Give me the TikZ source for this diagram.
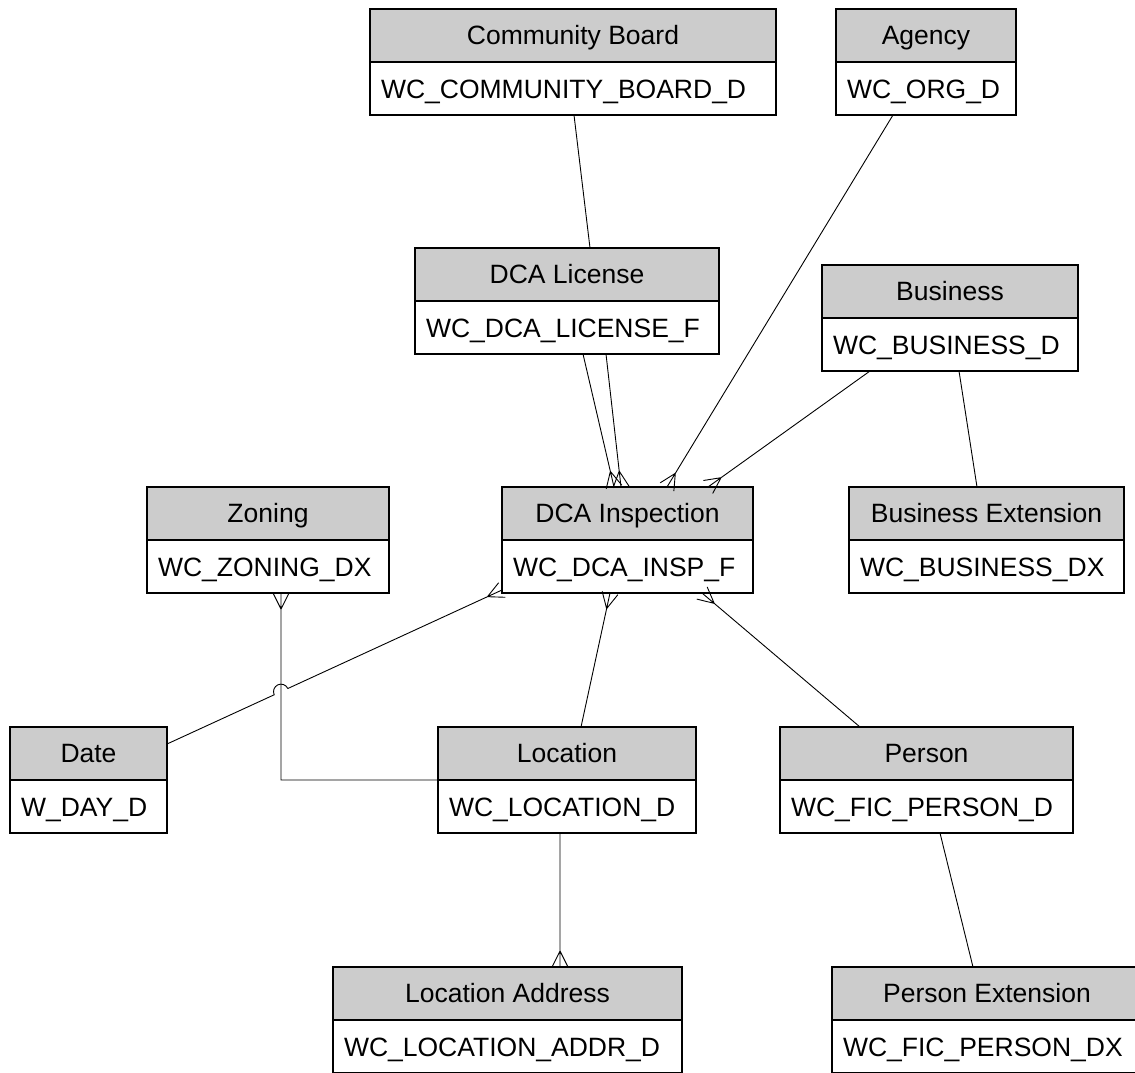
\documentclass[tikz,border=0pt]{standalone}
\usepackage{fontspec}
\setmainfont{Liberation Sans}
\usetikzlibrary{calc,positioning}
\definecolor{hdrgray}{RGB}{204,204,204}
\hyphenpenalty=10000
\exhyphenpenalty=10000

\begin{document}
\begin{tikzpicture}[x=1pt,y=-1pt]
\tikzstyle{enthead}=[rectangle,draw=black,line width=1.3pt,fill=hdrgray,anchor=north west,outer sep=0pt,inner xsep=11pt,minimum height=53pt,text height=18.5pt,text depth=0pt,font=\fontsize{26.5}{30}\selectfont]
\tikzstyle{enttab}=[rectangle,draw=black,line width=1.3pt,fill=white,outer sep=0pt,inner xsep=11pt,minimum height=53pt,text height=19.5pt,text depth=0pt,align=left,font=\fontsize{26.5}{30}\selectfont]
\tikzstyle{rel}=[line width=0.9pt]
\tikzstyle{many}=[to path={-- (\tikztotarget) ($(\tikztotarget)!16pt!(\tikztostart)$) -- ($(\tikztotarget)!8pt!90:(\tikztostart)$) ($(\tikztotarget)!16pt!(\tikztostart)$) -- ($(\tikztotarget)!8pt!-90:(\tikztostart)$)}]
\useasboundingbox (0,0) rectangle (1135,1072);

% tables
\node [enthead,minimum width=406pt] (comm) at (370,9) {Community Board};
\node [enttab,text width=384pt,below=0pt of comm] (commtab) {WC\_COMMUNITY\_BOARD\_D};
\node [enthead,minimum width=180pt] (agency) at (836,9) {Agency};
\node [enttab,text width=158pt,below=0pt of agency] (agencytab) {WC\_ORG\_D};
\node [enthead,minimum width=304pt] (lic) at (415,248) {DCA License};
\node [enttab,text width=282pt,below=0pt of lic] (lictab) {WC\_DCA\_LICENSE\_F};
\node [enthead,minimum width=256pt] (bus) at (822,265) {Business};
\node [enttab,text width=234pt,below=0pt of bus] (bustab) {WC\_BUSINESS\_D};
\node [enthead,minimum width=242pt] (zon) at (147,487) {Zoning};
\node [enttab,text width=220pt,below=0pt of zon] (zontab) {WC\_ZONING\_DX};
\node [enthead,minimum width=251pt] (insp) at (502,487) {DCA Inspection};
\node [enttab,text width=229pt,below=0pt of insp] (insptab) {WC\_DCA\_INSP\_F};
\node [enthead,minimum width=275pt] (busx) at (849,487) {Business Extension};
\node [enttab,text width=253pt,below=0pt of busx] (busxtab) {WC\_BUSINESS\_DX};
\node [enthead,minimum width=157pt] (date) at (10,727) {Date};
\node [enttab,text width=135pt,below=0pt of date] (datetab) {W\_DAY\_D};
\node [enthead,minimum width=258pt] (loc) at (438,727) {Location};
\node [enttab,text width=236pt,below=0pt of loc] (loctab) {WC\_LOCATION\_D};
\node [enthead,minimum width=293pt] (pers) at (780,727) {Person};
\node [enttab,text width=271pt,below=0pt of pers] (perstab) {WC\_FIC\_PERSON\_D};
\node [enthead,minimum width=349pt] (laddr) at (333,967) {Location Address};
\node [enttab,text width=327pt,below=0pt of laddr] (laddrtab) {WC\_LOCATION\_ADDR\_D};
\node [enthead,minimum width=310pt] (persx) at (832,967) {Person Extension};
\node [enttab,text width=288pt,below=0pt of persx] (persxtab) {WC\_FIC\_PERSON\_DX};

% link ends
\coordinate (cb1) at ($(commtab.south west)+(204,0)$);
\coordinate (lc1) at ($(lic.north west)+(175,0)$);
\coordinate (ag1) at ($(agencytab.south west)+(57,0)$);
\coordinate (lc2) at ($(lictab.south west)+(168,0)$);
\coordinate (lc3) at ($(lictab.south west)+(191,0)$);
\coordinate (bu1) at ($(bustab.south west)+(48,0)$);
\coordinate (bu2) at ($(bustab.south west)+(137,0)$);
\coordinate (bx1) at ($(busx.north west)+(128,0)$);
\coordinate (in1) at ($(insp.north west)+(165,0)$);
\coordinate (in2) at ($(insp.north west)+(112,0)$);
\coordinate (in3) at ($(insp.north west)+(119,0)$);
\coordinate (in4) at ($(insp.north west)+(206,0)$);
\coordinate (in5) at ($(insptab.south west)+(0,-3)$);
\coordinate (in6) at ($(insptab.south west)+(108,0)$);
\coordinate (in7) at ($(insptab.south west)+(200,0)$);
\coordinate (dt1) at ($(date.north east)+(0,17)$);
\coordinate (zn1) at ($(zontab.south west)+(134,0)$);
\coordinate (lo1) at (loctab.north west);
\coordinate (zc) at (zn1 |- lo1);
\coordinate (lo2) at ($(loc.north west)+(143,0)$);
\coordinate (lo3) at ($(loctab.south west)+(122,0)$);
\coordinate (la1) at ($(laddr.north west)+(227,0)$);
\coordinate (pe1) at ($(pers.north west)+(80,0)$);
\coordinate (pe2) at ($(perstab.south west)+(160,0)$);
\coordinate (px1) at ($(persx.north west)+(141,0)$);
\coordinate (hop) at (intersection of dt1--in5 and zn1--zc);
\coordinate (hopend) at ($(hop)!7.5pt!(in5)$);

% links
\draw[rel] (cb1) -- (lc1);
\draw[rel] (ag1) to[many] (in1);
\draw[rel] (lc2) to[many] (in2);
\draw[rel] (lc3) to[many] (in3);
\draw[rel] (bu1) to[many] (in4);
\draw[rel] (bu2) -- (bx1);
\draw[rel] let \p1=($(in5)-(dt1)$), \n1={atan2(\y1,\x1)} in
  (dt1) -- ($(hop)!7.5pt!(dt1)$) arc[start angle=\n1+180, end angle=\n1, radius=7.5pt];
\draw[rel] (hopend) to[many] (in5);
\draw[rel] (lo1) -- (zc) to[many] (zn1);
\draw[rel] (lo2) to[many] (in6);
\draw[rel] (pe1) to[many] (in7);
\draw[rel] (lo3) to[many] (la1);
\draw[rel] (pe2) -- (px1);
\end{tikzpicture}
\end{document}
